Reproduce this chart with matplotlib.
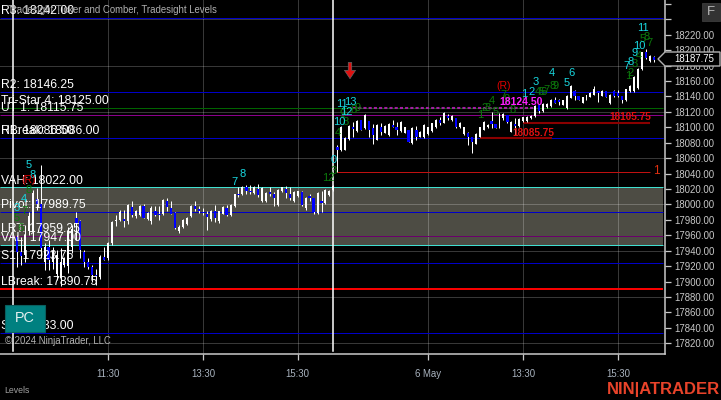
import matplotlib
matplotlib.use('Agg')
import matplotlib.pyplot as plt
from matplotlib.patches import Rectangle, Polygon

plt.rcParams['font.family'] = ['Liberation Sans', 'DejaVu Sans']

bar_open = [17958,17939,17935,17965,17975,18007,18000,17925,17945,17925,
    17910,17905,17922,17920,17945,17982,17978,17939,17926,17919,
    17909,17906,17932,17930,17950,17979,17980,17981,17978,17997,
    17985,17986,17998,17981,17978,17991,17988,17987,18005,17996,
    17989,17966,17971,17975,17985,17998,17994,17990,17988,17981,
    17992,17978,17988,17996,17986,17998,18013,18013,18022,18018,
    18015,18020,18004,18005,18016,18014,17999,18017,18020,18014,
    18005,18011,18016,17995,18011,18008,17989,18005,18002,18012,
    18019,18075,18070,18071,18085,18100,18095,18109,18099,18108,
    18099,18084,18100,18093,18090,18103,18101,18095,18093,18097,
    18080,18097,18088,18087,18091,18095,18100,18110,18106,18115,
    18109,18112,18100,18091,18093,18088,18079,18088,18097,18100,
    18108,18104,18099,18112,18116,18094,18104,18102,18108,18108,
    18112,18115,18129,18121,18126,18127,18136,18135,18129,18125,
    18138,18147,18140,18132,18136,18139,18142,18147,18141,18147,
    18131,18147,18144.75,18140,18135,18147,18147,18151,18175,18197,
    18186,18191]
bar_high = [17960.5,17958,17973,17990,18019,18021,18051,17950,17954,17945,
    17941,17943,17932,17971,17973,17990,17980,17941,17930,17922,
    17917,17935,17945,17951,17978,17986,17993,17993,18001,18005,
    17993,17999,18000,17990,17998,17998,17998,18007,18008,18004,
    17990,17973,17981,17984,17999,18004,17998,17995,17991,17993,
    17999,17992,17998,17999,18000,18014,18023,18024,18025,18025,
    18024,18027,18022,18016,18022,18016,18020,18023,18024,18023,
    18017,18018,18017,18010,18014,18008,18016,18017,18020,18019,
    18025,18077,18101.75,18088,18103,18107,18109,18110,18117,18108,
    18104,18104,18106,18103,18105,18110,18107,18108,18101,18097,
    18100,18102,18095,18104,18101,18106,18111,18113,18120,18117,
    18116,18112,18106.5,18101,18093.5,18088,18092,18101,18108,18104,
    18120,18104,18118,18118,18116,18108,18112,18112,18114,18115,
    18116,18129,18129,18131,18131,18137,18139,18137,18136,18141.75,
    18154.75,18148,18140,18139.5,18142.5,18146,18153.5,18147,18148,18147,
    18143,18149,18148,18140,18150.25,18154.75,18166,18176.25,18198,18201,
    18193.5,18192]
bar_low = [17919.5,17921.5,17926,17960,17965,17993,17930,17915,17915,17917,
    17902,17894,17919,17911,17937,17954,17930,17919,17917,17900,
    17896,17904,17928,17928,17948,17972,17978,17971,17975,17984,
    17982,17985,17982,17980,17975,17985,17980,17986,17991,17987,
    17968,17963,17969,17973,17984,17991,17989,17986,17967,17979,
    17977,17976,17987,17985,17985,17997,18010,18012,18014,18013,
    18014,18010,18003,18003,18011,17998,17998,18016,18008,18006,
    18003,18010,17998,17993,18004,17988,17988,17990,18001,18011,
    18018,18042.5,18069,18070,18084,18088,18094,18096,18098,18088,
    18078,18083,18090,18092,18089,18100,18090,18094,18092,18081,
    18079,18084,18087,18086,18090,18094,18099,18103,18105,18110,
    18108,18099,18099.5,18090,18077,18067,18078,18087,18096,18099,
    18098.75,18098.75,18098.75,18110,18105,18093.5,18090,18101,18107,18107,
    18111,18114,18119,18120,18125,18126,18131,18129.5,18128.75,18123.5,
    18137.5,18135,18135,18131.75,18135,18138.75,18141.75,18133,18140.5,18138.75,
    18130,18138.75,18138.75,18131,18134.5,18146,18146,18150,18174,18189,
    18185,18185]
bar_close = [17939,17933,17960,17985,18015,18000,17943,17945,17928,17940,
    17935,17925,17930,17965,17968,17976,17941,17926,17919,17909,
    17907,17932,17928,17950,17977,17980,17990,17979,17999,17986,
    17992,17998,17983,17989,17996,17986,17986,18006,17997,17988,
    17969,17971,17980,17983,17998,17994,17991,17989,17984,17992,
    17982,17991,17997,17986,17999,18013,18012,18023,18017,18016,
    18023,18012,18021,18015,18014,18008,18019,18022,18015,18008,
    18016,18017,17999,18009,18009,17990,18015,18002,18019,18018,
    18024,18070,18100,18086,18102,18098,18108,18097,18116,18097,
    18090,18103,18094,18102,18104,18101,18097,18107,18100,18081,
    18099,18088,18094,18103,18100,18105,18110,18106,18119,18112,
    18115,18101,18106,18100,18088,18081,18091,18100,18107,18103,
    18104,18099,18117,18117,18106.5,18107,18102,18111,18113,18114,
    18115,18128,18121,18130,18130,18136,18132,18133,18135,18140,
    18154,18140,18135,18139,18142,18145,18150,18144,18147,18139,
    18142,18140,18140.5,18135,18150,18154,18165,18175,18197,18190,
    18192,18187.75]

# levels, drawn in this order
level_names = ['R3', 'R2', 'UT 1', 'Tri-Star 4', 'R1', 'HBreak', 'VAH', 'Pivot', 'LRT', 'VAL', 'S1', 'LBreak', 'S2']
level_values = [18242.00, 18146.25, 18115.75, 18125.00, 18086.50, 18086.00, 18022.00,
                17989.75, 17959.25, 17947.00, 17923.75, 17890.75, 17833.00]
level_colors = ['#0000c8', '#0000c8', '#8b008b', '#006400', '#0000c8', '#0000c8', '#40e0d0',
                '#0000c8', '#6a006a', '#40e0d0', '#0000c8', '#ff0000', '#0000c8']

# count labels: text, bar, price
cyan_text = ['5','8','4','3','7','8','0','10','11','13','12','1','2','3','4','5','6','7','8','9','10','11']
cyan_bar = [3,3.9,1.8,0,55.1,57,80,81.4,82.2,84.3,83.3,128.2,130.2,131.2,135.3,139.1,140.1,154.2,155.2,156.2,157.3,158.3]
cyan_price = [18051,18038,18007,17995,18029,18039,18058,18107,18130,18133,18120,18143,18146,18159,18170,18157,18170,18179,18185,18196,18205,18229]
green_text = ['8','7','5','6','12','3','4','8','9','8','9','1','2','3','5','4','7','9','8','4','5','6','7','8','9','1','2','3','4','5','8','7']
green_bar = [3,1.8,0,0.8,78.6,80,81.2,83.2,82.2,85.2,86,117.1,118.3,119.1,121.1,120.1,122.9,123.9,125.2,131.7,132.7,133.2,134,135.5,136.3,154.5,155.2,156.2,157.3,158.3,159.3,160]
green_price = [18019,17992,17982,17970,18034,18043,18093,18107,18117,18122,18125,18116,18125,18125,18120,18134,18142,18137,18122,18146,18146,18146,18148,18153,18153,18166,18170,18182,18192,18214,18217,18209]

time_labels = ['11:30', '13:30', '15:30', '6 May', '13:30', '15:30']
time_bars = [23, 47, 71, 104, 128, 152]
session_bars = [-0.9, 79.9]
grid_prices = [18240, 18180, 18120, 18060, 18000, 17940, 17880, 17820]
price_ticks = list(range(17820, 18280, 20))

BG = '#000000'
fig = plt.figure(figsize=(7.21, 4), dpi=100, facecolor=BG)
ax = fig.add_axes([0, 1 - 354.3 / 400, 665 / 721, 354.3 / 400], facecolor=BG)
ax.set_xlim(-4.3, 163.85)
ax.set_ylim(17805.8, 18265)
xr = 163.3

ax.add_patch(Rectangle((-4.3, 17947), xr + 4.3, 18022 - 17947, color='#4d4c44', lw=0, zorder=1))

for p in grid_prices:
    ax.axhline(p, color='white', alpha=0.22, lw=0.75, zorder=2, snap=True)
for b in time_bars:
    ax.axvline(b, color='white', alpha=0.22, lw=0.75, zorder=2, snap=True)

for n, v, c in zip(level_names, level_values, level_colors):
    ax.hlines(v, -4.3, xr, color=c, lw=1.4 if n == 'LBreak' else 0.72, zorder=3, snap=True)

# tradesight lines
ax.hlines(18124.5, 85, 131, color='#a020a0', lw=1.5, linestyles=(0, (1.5, 1)), zorder=3, snap=True)
ax.hlines(18085.75, 117, 135.2, color='#8b0000', lw=1.5, zorder=3, snap=True)
ax.hlines(18105.75, 128, 160, color='#8b0000', lw=1.5, zorder=3, snap=True)
ax.hlines(18042.5, 81, 160, color='#c01010', lw=0.72, zorder=3, snap=True)

# bars
for i in range(len(bar_open)):
    o, h, l, c = bar_open[i], bar_high[i], bar_low[i], bar_close[i]
    ax.vlines(i, l, h, color='white', lw=0.72, zorder=4, snap=True)
    col = 'white' if c >= o else '#0000ff'
    wid = 0.5 if c >= o else 0.6
    ax.bar(i, max(abs(c - o), 1), bottom=min(o, c), width=wid, color=col, lw=0, zorder=5)

for b in session_bars:
    ax.plot([b, b], [17809.5, 18265], color='white', lw=1.1, zorder=6)

for n, v in zip(level_names, level_values):
    ax.annotate('%s: %.2f' % (n, v), (-4.3, v), xytext=(0.5, 5), textcoords='offset points',
                color='white', fontsize=8.7, va='center', ha='left', zorder=7)

for t, b, p in zip(green_text, green_bar, green_price):
    ax.text(b, p, t, color='#0c7a0c', fontsize=8, ha='center', va='center', zorder=8)
for t, b, p in zip(cyan_text, cyan_bar, cyan_price):
    ax.text(b, p, t, color='#18d8e0', fontsize=8, ha='center', va='center', zorder=8)

ax.text(3, 18032, '(R)', color='#e00000', fontsize=7.5, ha='center', va='center', zorder=8)
ax.text(123, 18153, '(R)', color='#e00000', fontsize=7.5, ha='center', va='center', zorder=8)
ax.text(127.5, 18133, '18124.50', color='#ff20ff', fontsize=7.5, fontweight='bold', ha='center', va='center', zorder=8)
ax.text(130.5, 18093, '18085.75', color='#e01010', fontsize=7.2, fontweight='bold', ha='center', va='center', zorder=8)
ax.text(155, 18113, '18105.75', color='#e01010', fontsize=7.2, fontweight='bold', ha='center', va='center', zorder=8)
ax.text(161.7, 18043, '1', color='#e03010', fontsize=8.5, ha='center', va='center', zorder=8)

ax.annotate('', xy=(84.2, 18163), xytext=(84.2, 18184),
            arrowprops=dict(facecolor='#e01010', edgecolor='#666666', lw=0.5, width=2.5, headwidth=8, headlength=6),
            zorder=8)

for s in ['top', 'left']:
    ax.spines[s].set_visible(False)
for s in ['right', 'bottom']:
    ax.spines[s].set_color('#c8c8c8')
    ax.spines[s].set_linewidth(1.1)

ax.yaxis.tick_right()
ax.set_yticks(price_ticks)
ax.set_yticklabels(['%.2f' % p if p <= 18220 else '' for p in price_ticks])
ax.set_xticks(time_bars)
ax.set_xticklabels(time_labels)
ax.tick_params(axis='y', colors='#c8c8c8', labelsize=6.9, length=4, width=0.9, pad=2.6)
ax.tick_params(axis='x', colors='#c8c8c8', labelsize=6.9, length=4.5, width=0.9, pad=6)
for lab in ax.get_xticklabels():
    lab.set_color('#aab4c0')


def px(x, y):
    return x / 721, 1 - y / 400


# overlay texts and buttons in figure pixels
fig.text(*px(8, 10), 'Tradesight Ticker and Comber, Tradesight Levels', color='#b0b0b0', fontsize=6.9,
         va='center', ha='left', zorder=10)
fig.patches.append(Rectangle(px(5, 332), 40 / 721, 27 / 400, transform=fig.transFigure, facecolor='#008080',
                             edgecolor='#0a5f5f', lw=0.8, zorder=10))
fig.text(*px(25, 318.5), 'PC', color='#e4f0f0', fontsize=10.4, va='center', ha='center', zorder=11)
fig.text(*px(5, 341.5), '\u00a9 2024 NinjaTrader, LLC', color='#b0b0b0', fontsize=6.9, va='center', ha='left', zorder=11)
fig.text(*px(4, 390.5), 'Levels', color='#a0a0a0', fontsize=6.3, va='center', ha='left', zorder=11)
fig.text(*px(607, 389.5), 'NIN|ATRADER', color='#e8432a', fontsize=12, fontweight='bold', va='center', ha='left', zorder=11)
fig.patches.append(Rectangle(px(702, 21), 18 / 721, 18 / 400, transform=fig.transFigure, facecolor='#333333',
                             edgecolor='#444444', lw=0.5, zorder=10))
fig.text(*px(711, 12), 'F', color='#b8b8b8', fontsize=9.5, va='center', ha='center', zorder=11)

# last price marker
fig.patches.append(Polygon([px(658, 59), px(665, 52), px(720, 52), px(720, 66), px(665, 66)],
                           closed=True, transform=fig.transFigure, facecolor='black',
                           edgecolor='#b0b0b0', lw=1, zorder=10))
fig.text(*px(694, 59), '%.2f' % bar_close[-1], color='white', fontsize=6.9, va='center', ha='center', zorder=11)

fig.savefig('out.png', dpi=100, facecolor=BG)
